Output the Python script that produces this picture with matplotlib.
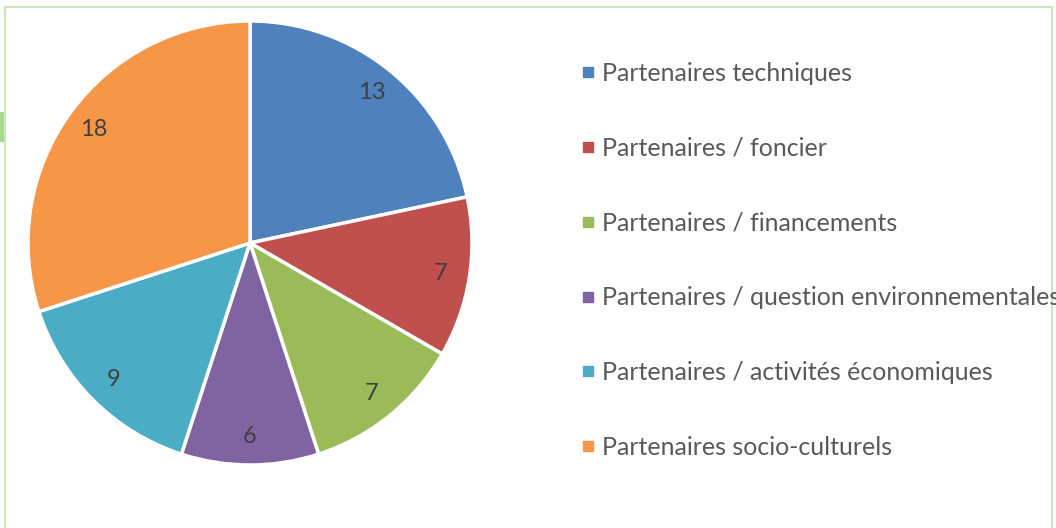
import matplotlib.pyplot as plt
from matplotlib.lines import Line2D
from matplotlib.patches import Rectangle

labels = ["Partenaires techniques", "Partenaires / foncier", "Partenaires / financements",
          "Partenaires / question environnementales", "Partenaires / activités économiques",
          "Partenaires socio-culturels"]
values = [13, 7, 7, 6, 9, 18]
colors = ["#4f81bd", "#c0504d", "#9bbb59", "#8064a2", "#4bacc6", "#f79646"]

plt.rcParams['font.family'] = ['Lato', 'DejaVu Sans']

W, H = 1056, 528
fig = plt.figure(figsize=(W / 100, H / 100), dpi=100)

# pie: centre (250, 243) px, radius 222 px
ax = fig.add_axes([(250 - 222) / W, (H - 243 - 222) / H, 444 / W, 444 / H])
total = sum(values)
wedges, texts, autotexts = ax.pie(values, colors=colors, startangle=90, counterclock=False,
                                  autopct=lambda p: f"{round(p * total / 100)}", pctdistance=0.87,
                                  wedgeprops=dict(edgecolor="white", linewidth=2.5),
                                  textprops=dict(fontsize=17, color="#404040"))
ax.set_xlim(-1, 1)
ax.set_ylim(-1, 1)
for w in wedges:
    w.set_clip_on(False)

handles = [Line2D([], [], marker="s", linestyle="none", markersize=6.5, color=c) for c in colors]
fig.legend(handles, labels, loc="upper left", bbox_to_anchor=(580 / W, 1 - 62 / H),
           frameon=False, fontsize=18, labelcolor="#595959", labelspacing=2.07,
           handlelength=0.6, handletextpad=0.28, borderpad=0, borderaxespad=0)

# light green frame (the long legend entry runs past it, as in the source)
fc = "#c9e8bc"
fig.add_artist(Line2D([5 / W, 5 / W], [0, 1 - 7 / H], color=fc, lw=1.5))
fig.add_artist(Line2D([5 / W, 1052 / W], [1 - 7 / H, 1 - 7 / H], color=fc, lw=1.5))
fig.add_artist(Line2D([1052 / W, 1052 / W], [0, 1 - 7 / H], color=fc, lw=1.5))
fig.add_artist(Rectangle((0, 1 - 142 / H), 4 / W, 30 / H, transform=fig.transFigure,
                         color="#a8d890", lw=0))

fig.savefig("out.png", dpi=100)
